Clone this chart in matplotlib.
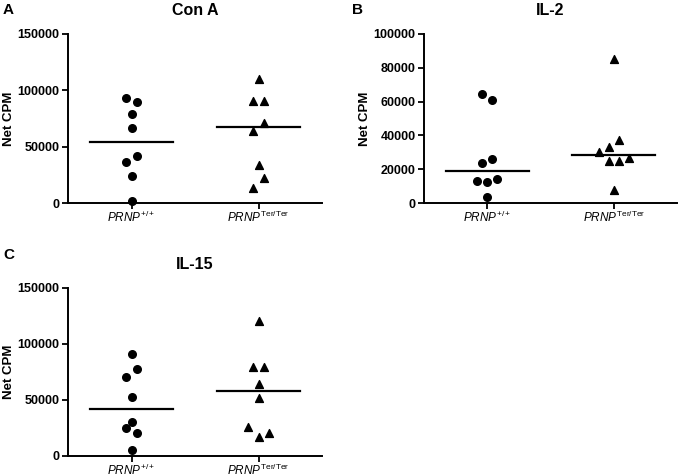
import numpy as np
import matplotlib
matplotlib.use('Agg')
import matplotlib.pyplot as plt

plt.rcParams['font.family'] = ['Liberation Sans', 'DejaVu Sans']
plt.rcParams['mathtext.fontset'] = 'custom'
plt.rcParams['mathtext.rm'] = 'Liberation Sans'
plt.rcParams['mathtext.it'] = 'Liberation Sans:italic'
plt.rcParams['mathtext.bf'] = 'Liberation Sans:bold'

groups = [r'$\mathit{PRNP}^{\mathrm{+/+}}$', r'$\mathit{PRNP}^{\mathrm{Ter/Ter}}$']

# Con A
cona_wt = [93500, 89700, 79300, 66500, 41600, 36200, 24000, 2100]
cona_wt_off = [-1, 1, 0, 0, 1, -1, 0, 0]
cona_ter = [110200, 90600, 90600, 71300, 63900, 33300, 22600, 13400]
cona_ter_off = [0, -1, 1, 1, -1, 0, 1, -1]

# IL-2
il2_wt = [64500, 61000, 25900, 23600, 14100, 12900, 12500, 3400]
il2_wt_off = [-1, 1, 1, -1, 2, -2, 0, 0]
il2_ter = [85100, 37200, 33300, 30300, 26700, 24600, 24600, 7900]
il2_ter_off = [0, 1, -1, -3, 3, -1, 1, 0]

# IL-15
il15_wt = [91500, 77800, 70400, 52900, 30600, 24700, 20800, 5600]
il15_wt_off = [0, 1, -1, 0, 0, -1, 1, 0]
il15_ter = [120300, 79600, 79600, 63900, 51700, 25500, 20800, 17200]
il15_ter_off = [0, -1, 1, 0, 0, -2, 2, 0]

panels = [
    ('A', 'Con A', cona_wt, cona_wt_off, cona_ter, cona_ter_off, 150000, 50000),
    ('B', 'IL-2', il2_wt, il2_wt_off, il2_ter, il2_ter_off, 100000, 20000),
    ('C', 'IL-15', il15_wt, il15_wt_off, il15_ter, il15_ter_off, 150000, 50000),
]

W, H = 680, 476
fig = plt.figure(figsize=(W / 100, H / 100), dpi=100)

# axes boxes in pixels: left, top, right, bottom
boxes = [(68, 34, 322, 203), (424, 34, 677, 203), (68, 288, 322, 456)]
letter_pos = [(3, 10), (352, 10), (3, 255)]

step = 0.04  # horizontal spread of overlapping points

for (letter, title, wt, wt_off, ter, ter_off, ymax, ystep), box, lp in zip(panels, boxes, letter_pos):
    l, t, r, b = box
    ax = fig.add_axes([l / W, 1 - b / H, (r - l) / W, (b - t) / H])
    ax.scatter(np.array(wt_off) * step, wt, marker='o', s=30, color='black', zorder=3, clip_on=False)
    ax.scatter(1 + np.array(ter_off) * step, ter, marker='^', s=32, color='black', zorder=3, clip_on=False)
    for i, vals in enumerate([wt, ter]):
        m = np.median(vals)
        ax.plot([i - 0.33, i + 0.33], [m, m], color='black', lw=1.6, zorder=2)

    ax.set_xlim(-0.5, 1.5)
    ax.set_ylim(0, ymax)
    ax.set_yticks(np.arange(0, ymax + 1, ystep))
    ax.set_xticks([0, 1])
    ax.set_xticklabels(groups, fontsize=8.5)
    for lab in ax.get_yticklabels():
        lab.set_fontweight('bold')
        lab.set_fontsize(9)
    ax.tick_params(axis='both', direction='out', length=4, width=1.3, pad=2)
    ax.tick_params(axis='x', pad=1)
    for side in ['top', 'right']:
        ax.spines[side].set_visible(False)
    for side in ['left', 'bottom']:
        ax.spines[side].set_linewidth(1.4)
    ax.set_ylabel('Net CPM', fontsize=9.5, fontweight='bold')
    ax.yaxis.set_label_coords(-0.21, 0.5)
    ax.set_title(title, fontsize=11.5, fontweight='bold', pad=14)
    fig.text(lp[0] / W, 1 - lp[1] / H, letter, fontsize=11, fontweight='bold',
             ha='left', va='center')

fig.savefig('out.png', dpi=100)
